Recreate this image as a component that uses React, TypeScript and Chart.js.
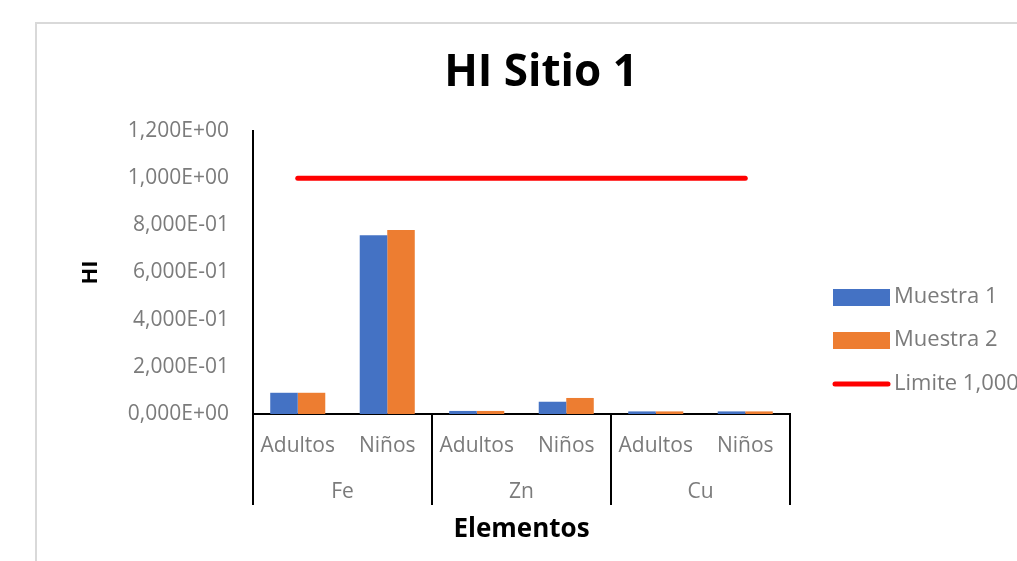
import React, { useEffect, useRef } from "react";
import { Chart, registerables } from "chart.js";

Chart.register(...registerables);

const categories = ["Adultos", "Niños", "Adultos", "Niños", "Adultos", "Niños"];
const groups = ["Fe", "Zn", "Cu"];
const muestra1 = [0.09, 0.758, 0.013, 0.052, 0.011, 0.011];
const muestra2 = [0.09, 0.78, 0.013, 0.068, 0.011, 0.011];
const limite = [1, 1, 1, 1, 1, 1];
const yMin = 0;
const yMax = 1.2;
const yStep = 0.2;

const TEXT_GRAY = "#7b7b7b";
const FONT = "'Open Sans', 'Noto Sans', sans-serif";

function fmtSci(v: number): string {
  if (Math.abs(v) < 1e-12) return "0,000E+00";
  const [m, e] = v.toExponential(3).split("e");
  const exp = parseInt(e, 10);
  const sign = exp < 0 ? "-" : "+";
  const ae = Math.abs(exp).toString().padStart(2, "0");
  return m.replace(".", ",") + "E" + sign + ae;
}

const decorPlugin = {
  id: "decor",
  beforeDraw(chart: any) {
    const ctx = chart.ctx;
    ctx.save();
    ctx.fillStyle = "#ffffff";
    ctx.fillRect(0, 0, chart.width, chart.height);
    ctx.strokeStyle = "#d9d9d9";
    ctx.lineWidth = 2;
    ctx.beginPath();
    ctx.moveTo(36, chart.height);
    ctx.lineTo(36, 23);
    ctx.lineTo(chart.width, 23);
    ctx.stroke();
    ctx.restore();
  },
  afterDraw(chart: any) {
    const ctx = chart.ctx;
    const area = chart.chartArea;
    const xs = chart.scales.x;
    ctx.save();

    // Title
    ctx.fillStyle = "#000";
    ctx.font = `bold 44px ${FONT}`;
    ctx.textAlign = "center";
    ctx.textBaseline = "middle";
    ctx.fillText("HI Sitio 1", 541, 73);

    // Group separators and labels
    const n = categories.length;
    const per = n / groups.length;
    const half = (xs.getPixelForValue(1) - xs.getPixelForValue(0)) / 2;
    ctx.strokeStyle = "#000";
    ctx.lineWidth = 2;
    const bounds: number[] = [];
    for (let g = 0; g <= groups.length; g++) {
      const px = g < groups.length ? xs.getPixelForValue(g * per) - half : xs.getPixelForValue(n - 1) + half;
      bounds.push(px);
      ctx.beginPath();
      ctx.moveTo(px, area.bottom);
      ctx.lineTo(px, area.bottom + 91);
      ctx.stroke();
    }
    ctx.fillStyle = TEXT_GRAY;
    ctx.font = `21px ${FONT}`;
    ctx.textAlign = "center";
    ctx.textBaseline = "middle";
    groups.forEach((g, i) => {
      ctx.fillText(g, (bounds[i] + bounds[i + 1]) / 2, area.bottom + 78);
    });

    // X title
    ctx.fillStyle = "#000";
    ctx.font = `bold 26px ${FONT}`;
    ctx.fillText("Elementos", (area.left + area.right) / 2, 530);

    // Y title
    ctx.save();
    ctx.translate(91, (area.top + area.bottom) / 2);
    ctx.rotate(-Math.PI / 2);
    ctx.font = `bold 22px ${FONT}`;
    ctx.fillText("HI", 0, 0);
    ctx.restore();

    // Legend
    const ys = [297, 340, 384];
    chart.data.datasets.forEach((ds: any, i: number) => {
      const y = ys[i];
      if (ds.type === "line") {
        ctx.strokeStyle = ds.borderColor;
        ctx.lineWidth = 5;
        ctx.lineCap = "round";
        ctx.beginPath();
        ctx.moveTo(835, y);
        ctx.lineTo(888, y);
        ctx.stroke();
      } else {
        ctx.fillStyle = ds.backgroundColor;
        ctx.fillRect(833, y - 8, 57, 17);
      }
      ctx.fillStyle = TEXT_GRAY;
      ctx.font = `22px ${FONT}`;
      ctx.textAlign = "left";
      ctx.textBaseline = "middle";
      ctx.fillText(ds.label, 894, y);
    });

    ctx.restore();
  },
};

export default function App() {
  const ref = useRef<HTMLCanvasElement>(null);
  useEffect(() => {
    if (!ref.current) return;
    const yTickValues: number[] = [];
    for (let v = yMin; v <= yMax + 1e-9; v += yStep) yTickValues.push(Math.round(v * 10) / 10);
    const chart = new Chart(ref.current, {
      type: "bar",
      data: {
        labels: categories,
        datasets: [
          { type: "bar", label: "Muestra 1", data: muestra1, backgroundColor: "#4472C4", categoryPercentage: 0.615, barPercentage: 1 } as any,
          { type: "bar", label: "Muestra 2", data: muestra2, backgroundColor: "#ED7D31", categoryPercentage: 0.615, barPercentage: 1 } as any,
          { type: "line", label: "Limite 1,000", data: limite, borderColor: "#FF0000", backgroundColor: "#FF0000", borderWidth: 5, pointRadius: 0, borderCapStyle: "round", fill: false } as any,
        ],
      },
      options: {
        animation: false,
        responsive: true,
        maintainAspectRatio: false,
        layout: { padding: { top: 131, right: 227, bottom: 0, left: 0 } },
        plugins: { legend: { display: false }, title: { display: false }, tooltip: { enabled: false } },
        scales: {
          x: {
            grid: { display: false, drawTicks: false },
            border: { display: true, color: "#000", width: 2 },
            ticks: { color: TEXT_GRAY, font: { family: FONT, size: 21 }, padding: 19, maxRotation: 0, autoSkip: false },
            afterFit: (s: any) => { s.height = 147; },
          },
          y: {
            min: yMin,
            max: yMax,
            grid: { display: false, drawTicks: false },
            border: { display: true, color: "#000", width: 2 },
            afterBuildTicks: (s: any) => { s.ticks = yTickValues.map((v) => ({ value: v })); },
            ticks: { color: TEXT_GRAY, font: { family: FONT, size: 21 }, padding: 24, callback: (v: any) => fmtSci(Number(v)) },
            afterFit: (s: any) => { s.width = 253; },
          },
        },
      },
      plugins: [decorPlugin],
    });
    return () => chart.destroy();
  }, []);
  return (
    <div style={{ position: "absolute", left: 0, top: 0, width: 1017, height: 561, overflow: "hidden" }}>
      <canvas ref={ref} />
    </div>
  );
}
